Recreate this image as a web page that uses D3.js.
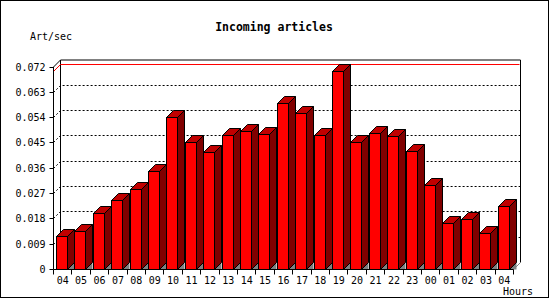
<!DOCTYPE html>
<html>
<head>
<meta charset="utf-8">
<script src="https://cdn.jsdelivr.net/npm/d3@7"></script>
<style>
  body { margin: 0; background: #fff; }
  svg { display: block; }
  text { font-family: "DejaVu Sans Mono", monospace; fill: #000; }
</style>
</head>
<body>
<div id="viz"></div>
<script>
// hourly incoming article rate (articles per second)
const hours = ["04","05","06","07","08","09","10","11","12","13","14","15","16",
               "17","18","19","20","21","22","23","00","01","02","03","04"];
const rates = [0.0116, 0.0134, 0.0199, 0.0244, 0.0283, 0.0347, 0.0540, 0.0451, 0.0415,
               0.0476, 0.0490, 0.0479, 0.0590, 0.0554, 0.0476, 0.0704, 0.0450, 0.0482,
               0.0473, 0.0418, 0.0297, 0.0163, 0.0178, 0.0128, 0.0224];
const yTicks = [0, 0.009, 0.018, 0.027, 0.036, 0.045, 0.054, 0.063, 0.072];

const W = 550, H = 300;
const D = 7; // 3d depth offset

const svg = d3.select("#viz").append("svg")
    .attr("width", W)
    .attr("height", H);

// outer frame
svg.append("rect")
    .attr("x", 0.5).attr("y", 0.5)
    .attr("width", 548).attr("height", 297)
    .attr("fill", "#fff")
    .attr("stroke", "#000");

const x = d3.scaleBand()
    .domain(d3.range(hours.length))
    .range([53.5, 513.5]);

const y = d3.scaleLinear()
    .domain([0, 0.072])
    .range([269.5, 67]);

// snap to pixel centres so 1px lines stay sharp
const snap = v => Math.round(v - 0.5) + 0.5;

const backTop = y(0.072) - D, backRight = x.range()[1] + D, left = x.range()[0];

// back plane frame
svg.append("path")
    .attr("d", `M${left},${y(0.072)}L${left + D},${backTop}H${backRight}V${y(0) - D}`)
    .attr("fill", "none")
    .attr("stroke", "#000");
svg.append("line")
    .attr("x1", left + D).attr("x2", left + D)
    .attr("y1", backTop).attr("y2", y(0) - D)
    .attr("stroke", "#000");

// dotted grid on the back plane
svg.append("g").selectAll("path")
    .data(yTicks.filter(t => t > 0 && t < 0.072))
    .enter()
    .append("path")
    .attr("d", t => `M${left},${snap(y(t))}L${left + D},${snap(y(t)) - D}H${backRight}`)
    .attr("fill", "none")
    .attr("stroke", "#000")
    .attr("stroke-dasharray", "2,2");

// peak line
const peak = d3.max(rates);
const py = snap(y(peak));
svg.append("path")
    .attr("d", `M${left},${py}L${left + D},${py - D}H${backRight - 1}`)
    .attr("fill", "none")
    .attr("stroke", "#ff0000");

// floor right edge
svg.append("line")
    .attr("x1", x.range()[1]).attr("y1", y(0))
    .attr("x2", backRight).attr("y2", y(0) - D)
    .attr("stroke", "#808080");

// bars
const bw = 11;
const bars = svg.append("g").selectAll("g")
    .data(rates)
    .enter()
    .append("g");

const bx = (d, i) => Math.floor(x(i) + 3) + 0.5;
const by = d => snap(y(d));

bars.append("path")
    .attr("d", (d, i) => {
        const x1 = bx(d, i) + bw;
        return `M${x1},${y(0)}L${x1 + D},${y(0) - D}V${y(0)}Z`;
    })
    .attr("fill", "#808080");

bars.append("path")
    .attr("d", (d, i) => {
        const x1 = bx(d, i) + bw, t = by(d);
        return `M${x1},${t}L${x1 + D},${t - D}V${y(0) - D}L${x1},${y(0)}Z`;
    })
    .attr("fill", "#800000")
    .attr("stroke", "#000");

bars.append("path")
    .attr("d", (d, i) => {
        const x0 = bx(d, i), t = by(d);
        return `M${x0},${t}L${x0 + D},${t - D}H${x0 + bw + D}L${x0 + bw},${t}Z`;
    })
    .attr("fill", "#c00000")
    .attr("stroke", "#000");

bars.append("rect")
    .attr("x", bx)
    .attr("y", by)
    .attr("width", bw)
    .attr("height", d => y(0) - by(d))
    .attr("fill", "#ff0000")
    .attr("stroke", "#000");

// y axis
const yAxis = d3.axisLeft(y)
    .tickValues(yTicks)
    .tickSize(4)
    .tickSizeOuter(0)
    .tickPadding(4)
    .offset(0)
    .tickFormat(d => d === 0 ? "0" : d3.format(".3f")(d));

const gy = svg.append("g")
    .attr("transform", `translate(${left},0)`)
    .call(yAxis);
gy.selectAll(".tick").attr("transform", d => `translate(0,${snap(y(d))})`);

// x axis
const xAxis = d3.axisBottom(x)
    .tickSize(0)
    .tickPadding(7)
    .offset(0)
    .tickFormat(i => hours[i]);

const gx = svg.append("g")
    .attr("transform", `translate(0,${y(0)})`)
    .call(xAxis);

gx.selectAll(".tick-b")
    .data(d3.range(hours.length + 1))
    .enter()
    .append("line")
    .attr("x1", i => snap(left + i * x.step()))
    .attr("x2", i => snap(left + i * x.step()))
    .attr("y1", 0)
    .attr("y2", 5)
    .attr("stroke", "#000");

[gx, gy].forEach(g => {
    g.attr("font-family", null).attr("font-size", null);
    g.selectAll("text").style("font-size", "10px");
    g.select(".domain").attr("stroke", "#000");
});

// titles
svg.append("text")
    .attr("x", 274)
    .attr("y", 31)
    .attr("text-anchor", "middle")
    .style("font-size", "11.5px")
    .style("font-weight", "bold")
    .text("Incoming articles");

svg.append("text")
    .attr("x", 30)
    .attr("y", 40)
    .style("font-size", "10px")
    .text("Art/sec");

svg.append("text")
    .attr("x", 533)
    .attr("y", 295)
    .attr("text-anchor", "end")
    .style("font-size", "10px")
    .text("Hours");
</script>
</body>
</html>
